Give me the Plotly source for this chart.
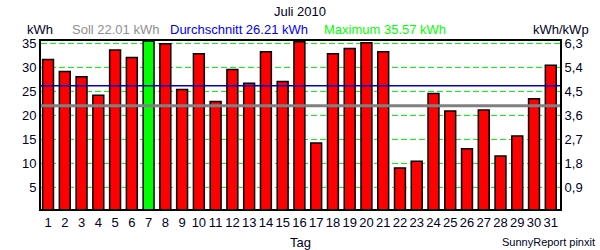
import plotly.graph_objects as go

days = list(range(1, 32))
kwh = [31.7, 29.2, 28.1, 24.2, 33.7, 32.1, 35.57, 35.0, 25.4, 32.9,
       22.9, 29.6, 26.7, 33.3, 27.1, 35.4, 14.2, 32.9, 34.0, 35.2,
       33.3, 9.0, 10.4, 24.6, 20.9, 13.0, 21.1, 11.5, 15.7, 23.5, 30.5]
soll = 22.01
avg = 26.21
maxv = 35.57
kwp = 35 / 6.3
left_ticks = [5, 10, 15, 20, 25, 30, 35]
right_ticks = [0.9, 1.8, 2.7, 3.6, 4.5, 5.4, 6.3]
right_labels = ["0,9", "1,8", "2,7", "3,6", "4,5", "5,4", "6,3"]

W, H = 600, 250
L, R, T, B = 41, 40, 41, 41
pw = W - L - R

colors = ["#00ff00" if v == max(kwh) else "#ff0000" for v in kwh]
txt = "#000022"
font = "Liberation Sans, Arial, sans-serif"

fig = go.Figure()
fig.add_trace(go.Bar(x=days, y=kwh, marker=dict(color=colors, line=dict(color="black", width=1.5)),
                     width=0.65, yaxis="y"))
fig.add_trace(go.Scatter(x=[days[0]], y=[kwh[0] / kwp], yaxis="y2", mode="markers",
                         marker=dict(opacity=0), showlegend=False, hoverinfo="skip"))

y0, y1 = 0.4, maxv
fig.update_layout(
    width=W, height=H, margin=dict(l=L, r=R, t=T, b=B, autoexpand=False),
    paper_bgcolor="white", plot_bgcolor="white", showlegend=False,
    font=dict(family=font, size=13, color=txt),
    bargap=0.35,
    xaxis=dict(range=[0.58, 31.55], tickvals=days, ticktext=[str(d) for d in days],
               showgrid=False, showline=True, linecolor="black", linewidth=2, mirror=True,
               ticks="", ticklen=0, ticklabelstandoff=0, tickfont=dict(size=13, color=txt),
               zeroline=False, automargin=False),
    yaxis=dict(range=[y0, y1], tickvals=left_ticks, showgrid=True, gridcolor="#00ff00",
               griddash="6px,3px", gridwidth=1, showline=True, linecolor="black", linewidth=2,
               ticks="", zeroline=False, tickfont=dict(size=13, color=txt), automargin=False),
    yaxis2=dict(range=[y0 / kwp, y1 / kwp], overlaying="y", side="right",
                tickvals=right_ticks, ticktext=right_labels, showgrid=False,
                showline=True, linecolor="black", linewidth=2, ticks="", zeroline=False,
                tickfont=dict(size=13, color=txt), automargin=False),
)

fig.add_shape(type="line", xref="paper", x0=0, x1=1, yref="y", y0=soll, y1=soll,
              line=dict(color="#808080", width=3))
fig.add_shape(type="line", xref="paper", x0=0, x1=1, yref="y", y0=avg, y1=avg,
              line=dict(color="#0000cc", width=1.5))

def px(x):
    return (x - L) / pw

def py(y):
    return (H - B - y) / (H - T - B)

ann = [
    dict(text="Juli 2010", x=px(300), y=py(12), xanchor="center", color=txt),
    dict(text="kWh", x=px(25), y=py(29.5), xanchor="left", color=txt),
    dict(text="Soll %.2f kWh" % soll, x=px(70), y=py(29.5), xanchor="left", color="#909090"),
    dict(text="Durchschnitt %.2f kWh" % avg, x=px(168), y=py(29.5), xanchor="left", color="#0000ff"),
    dict(text="Maximum %.2f kWh" % maxv, x=px(322), y=py(29.5), xanchor="left", color="#00ff00"),
    dict(text="kWh/kWp", x=px(591), y=py(29.5), xanchor="right", color=txt),
    dict(text="Tag", x=px(300), y=py(242), xanchor="center", color=txt),
    dict(text="SunnyReport pinxit", x=px(597), y=py(242), xanchor="right", color=txt, size=11),
]
for a in ann:
    fig.add_annotation(text=a["text"], x=a["x"], y=a["y"], xref="paper", yref="paper",
                       xanchor=a["xanchor"], yanchor="middle", showarrow=False,
                       font=dict(family=font, size=a.get("size", 13), color=a["color"]))

fig.write_html("out.html")
